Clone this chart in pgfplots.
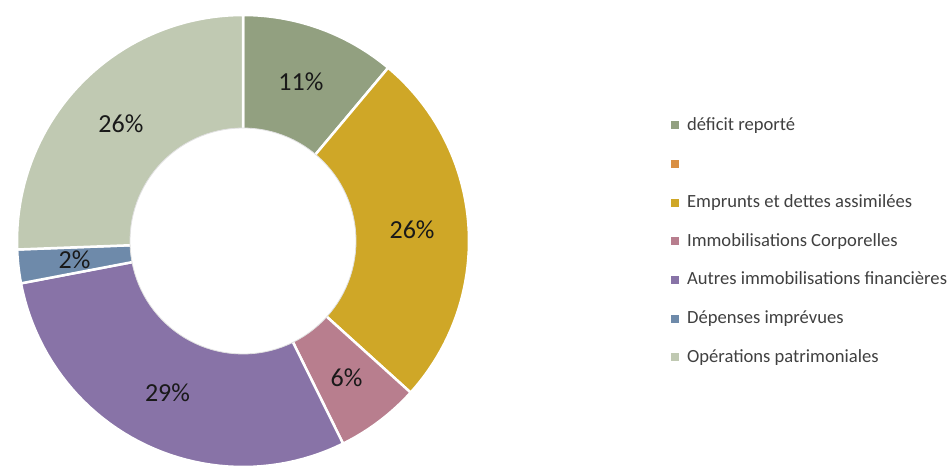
\documentclass[border=0pt]{standalone}
\usepackage{fontspec}
\setmainfont{Carlito}
\usepackage{pgfplots}
\pgfplotsset{compat=1.18}
\definecolor{cGreen}{RGB}{146,160,128}
\definecolor{cOrange}{RGB}{217,143,67}
\definecolor{cGold}{RGB}{207,167,39}
\definecolor{cPink}{RGB}{184,126,142}
\definecolor{cPurple}{RGB}{136,115,167}
\definecolor{cBlue}{RGB}{110,138,170}
\definecolor{cLight}{RGB}{192,201,178}
\begin{document}
\begin{tikzpicture}
\useasboundingbox (0,0) rectangle (952bp,469bp);
\begin{axis}[
  x=226bp, y=226bp,
  xmin=-1, xmax=1, ymin=-1, ymax=1,
  hide axis, clip=false,
  anchor=origin, at={(243bp,228bp)},
  wedge/.style={draw=white, line width=2.5bp, line join=round, samples=50, variable=\t},
  legend image code/.code={\path[#1,draw=none] (0bp,-4bp) rectangle (8bp,4bp);},
  legend style={draw=none, fill=none, at={(1.44,0.781)}, anchor=north west,
    font=\fontsize{18.6bp}{22bp}\selectfont, text=black!75,
    nodes={inner sep=0pt, text height=14bp, text depth=4bp},
    row sep=20.7bp, column sep=8bp},
  legend cell align=left,
]
% values (percent): 11.1, 0, 25.6, 6.0, 29.3, 2.4, 25.6
\addplot[wedge, fill=cGreen, domain=0:11.1] ({sin(3.6*\t)},{cos(3.6*\t)}) -- (0,0) -- cycle;
\addlegendentry{déficit reporté}
\addlegendimage{fill=cOrange}
\addlegendentry{}
\addplot[wedge, fill=cGold, domain=11.1:36.7] ({sin(3.6*\t)},{cos(3.6*\t)}) -- (0,0) -- cycle;
\addlegendentry{Emprunts et dettes assimilées}
\addplot[wedge, fill=cPink, domain=36.7:42.7] ({sin(3.6*\t)},{cos(3.6*\t)}) -- (0,0) -- cycle;
\addlegendentry{Immobilisations Corporelles}
\addplot[wedge, fill=cPurple, domain=42.7:72.0] ({sin(3.6*\t)},{cos(3.6*\t)}) -- (0,0) -- cycle;
\addlegendentry{Autres immobilisations financières}
\addplot[wedge, fill=cBlue, domain=72.0:74.4] ({sin(3.6*\t)},{cos(3.6*\t)}) -- (0,0) -- cycle;
\addlegendentry{Dépenses imprévues}
\addplot[wedge, fill=cLight, domain=74.4:100] ({sin(3.6*\t)},{cos(3.6*\t)}) -- (0,0) -- cycle;
\addlegendentry{Opérations patrimoniales}
\addplot[forget plot, fill=white, draw=black!12, line width=0.8bp, domain=0:360, samples=120, variable=\t] ({0.5*cos(\t)},{0.5*sin(\t)}) -- cycle;
\begin{scope}[every node/.style={font=\fontsize{26bp}{28bp}\selectfont, text=black!90}]
\node at (axis cs:{0.75*sin(3.6*5.55)},{0.75*cos(3.6*5.55)}) {11\%};
\node at (axis cs:{0.75*sin(3.6*23.9)},{0.75*cos(3.6*23.9)}) {26\%};
\node at (axis cs:{0.76*sin(3.6*39.7)},{0.76*cos(3.6*39.7)}) {6\%};
\node at (axis cs:{0.75*sin(3.6*57.35)},{0.75*cos(3.6*57.35)}) {29\%};
\node at (axis cs:{0.75*sin(3.6*73.2)},{0.75*cos(3.6*73.2)}) {2\%};
\node at (axis cs:{0.75*sin(3.6*87.2)},{0.75*cos(3.6*87.2)}) {26\%};
\end{scope}
\end{axis}
\end{tikzpicture}
\end{document}
